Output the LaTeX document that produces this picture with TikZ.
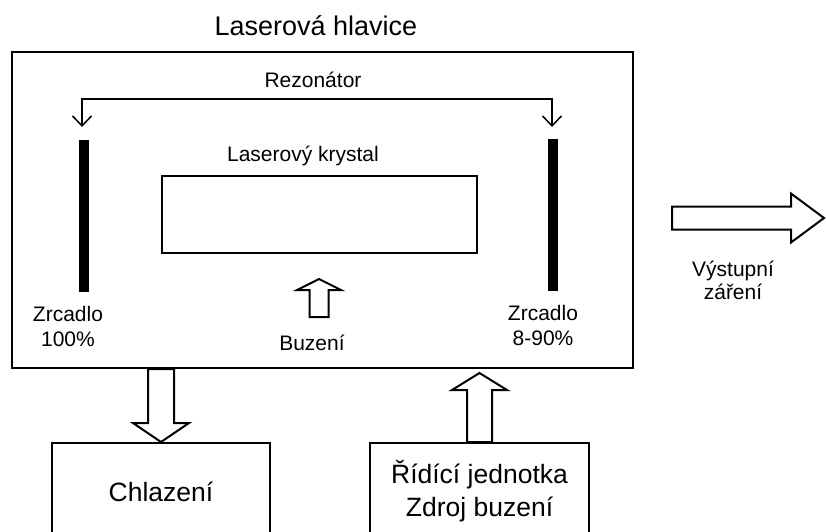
\documentclass[tikz,border=0pt]{standalone}
\usepackage{fontspec}
\setmainfont{Liberation Sans}
\usetikzlibrary{arrows.meta, calc}

% hollow block arrow: from, to, half shaft, half head, head length
\newcommand{\fatarrow}[5]{%
  \draw[fat] ($(#1)!#3!90:(#2)$)
    -- ($(#2)!#5!(#1)!#3!90:(#2)$)
    -- ($(#2)!#5!(#1)!#4!90:(#2)$)
    -- (#2)
    -- ($(#2)!#5!(#1)!#4!-90:(#2)$)
    -- ($(#2)!#5!(#1)!#3!-90:(#2)$)
    -- ($(#1)!#3!-90:(#2)$) -- cycle;
}

\begin{document}
\begin{tikzpicture}[x=1pt, y=-1pt,
        box/.style={draw, line width=2pt, inner sep=0pt},
        mirror/.style={fill=black, minimum width=10pt, minimum height=152pt, inner sep=0pt},
        lbl/.style={font=\fontsize{21}{25}\selectfont, align=center},
        big/.style={font=\fontsize{26.5}{33}\selectfont, align=center},
        fat/.style={draw, fill=white, line width=2pt, line join=miter},
        res/.style={line width=1.5pt,
                    {Straight Barb[length=10pt,width=19pt]}-{Straight Barb[length=10pt,width=19pt]}}
      ]
        \fill[white] (0,0) rectangle (826,531);
        \useasboundingbox (0,0) rectangle (826,531);
        \clip (0,0) rectangle (826,531);
        % Laser head
        \node[box, minimum width=621pt, minimum height=316pt] (head) at (322.5,210) {};
        \node[font=\fontsize{27}{32}\selectfont] (title) at (316,26) {Laserová hlavice};
        % Crystal
        \node[box, line width=2.5pt, minimum width=315pt, minimum height=77pt] (crystal) at (319.5,214.5) {};
        \node[lbl] (crystlbl) at (303,156) {Laserový krystal};
        % Mirrors
        \foreach \nm/\x/\y in {mirL/83.5/216, mirR/553/215}{
          \node[mirror] (\nm) at (\x,\y) {};
        }
        \node[lbl] (mirLlbl) at (68,326) {Zrcadlo\\100\%};
        \node[lbl] (mirRlbl) at (543,325) {Zrcadlo\\8-90\%};
        % Resonator
        \node[lbl] (reslbl) at (313,80) {Rezonátor};
        \coordinate (resL) at (82,127);
        \coordinate (resR) at (552,127);
        \draw[res] (resL) -- ++(0,-28) -| (resR);
        % Pumping
        \node[lbl] (pumplbl) at (312,343) {Buzení};
        \coordinate (pumpA) at (319,317);
        \coordinate (pumpB) at (319,279);
        \fatarrow{pumpA}{pumpB}{9.5pt}{22pt}{11pt}
        % Output beam
        \node[lbl, font=\fontsize{21}{23}\selectfont] (outlbl) at (733,280) {Výstupní\\záření};
        \coordinate (outA) at (672,218);
        \coordinate (outB) at (824,218);
        \fatarrow{outA}{outB}{11.5pt}{24.5pt}{33pt}
        % Cooling and supply
        \node[box, big, minimum width=218pt, minimum height=97pt] (cool) at (161,491.5) {Chlazení};
        \node[box, big, minimum width=219pt, minimum height=97pt] (supply) at (479.5,491.5) {Řídící jednotka\\Zdroj buzení};
        \coordinate (coolA) at (head.south -| cool.north);
        \fatarrow{coolA}{cool.north}{13pt}{28pt}{19pt}
        \coordinate (drvB) at ($(supply.north |- head.south)+(0,4)$);
        \fatarrow{supply.north}{drvB}{12.5pt}{27.5pt}{17pt}
      \end{tikzpicture}
\end{document}
